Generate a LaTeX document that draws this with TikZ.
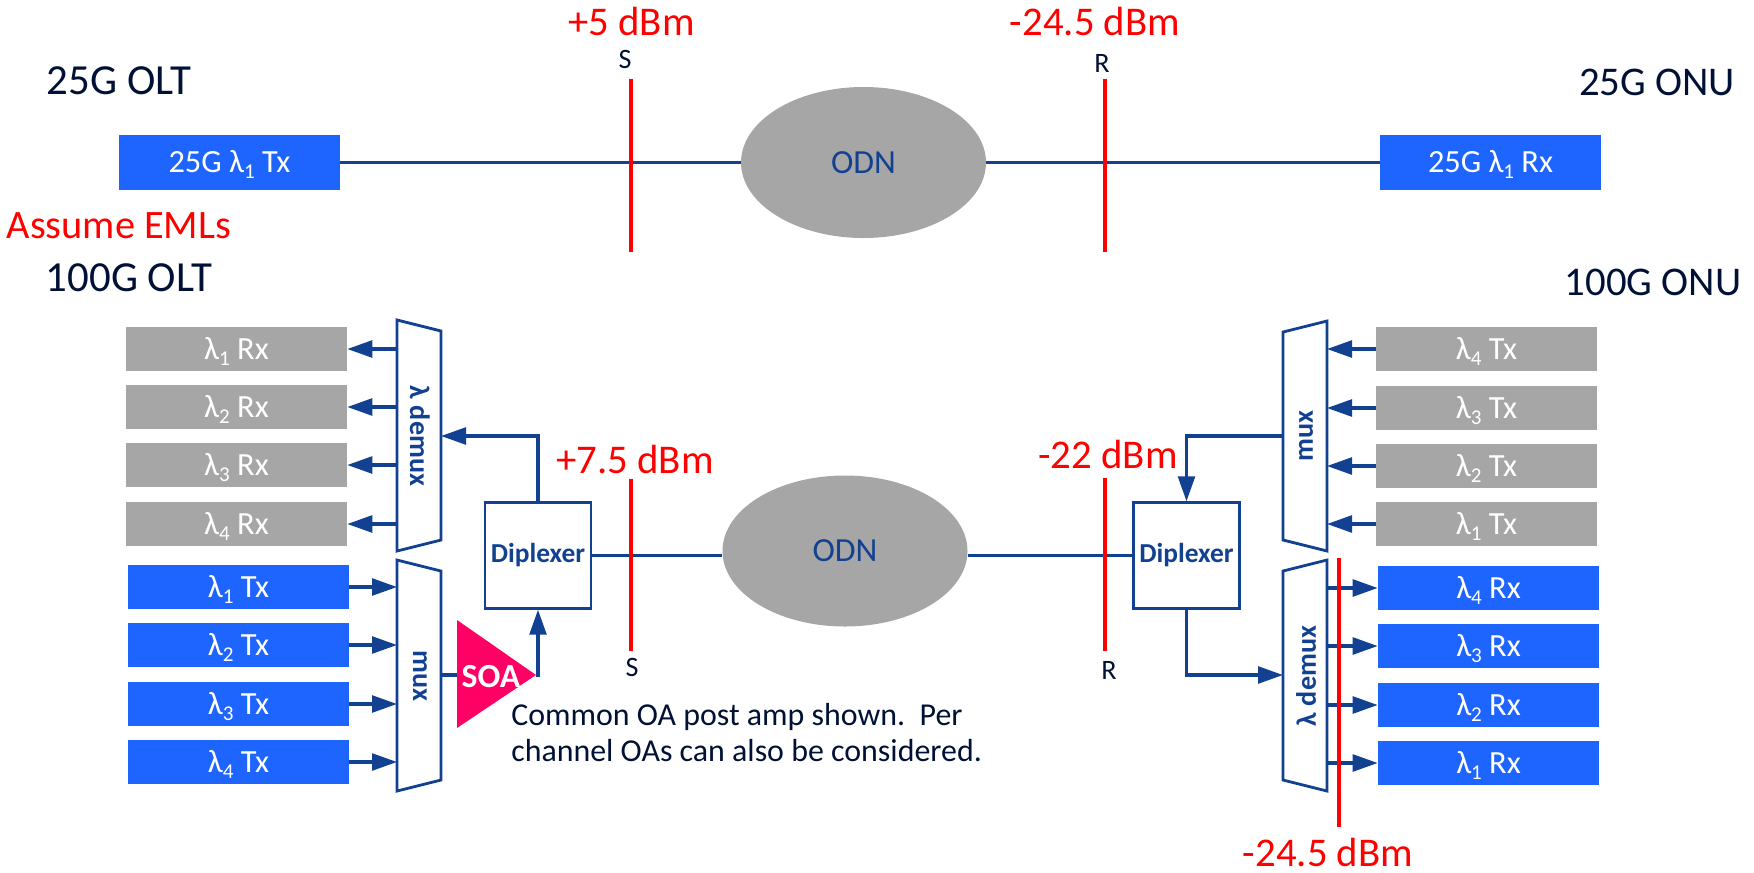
\documentclass[tikz,border=0pt]{standalone}
\usepackage{fontspec}
\setmainfont{Carlito}
\usepackage{tikz}
\usetikzlibrary{shapes.geometric, arrows.meta}

\definecolor{nokblue}{HTML}{124191}
\definecolor{brtblue}{HTML}{1E64FF}
\definecolor{odngray}{HTML}{A6A6A6}
\definecolor{soapink}{HTML}{FF0064}
\definecolor{txtnavy}{HTML}{001135}

\newcommand{\lamb}[1]{λ\raisebox{-0.4ex}{\fontsize{15}{15}\selectfont #1}}

\tikzset{
  lbl/.style={inner sep=0pt,anchor=base,text=txtnavy,font=\fontsize{29}{30}\selectfont},
  dbm/.style={lbl,text=red,font=\fontsize{29}{30}\selectfont},
  pnt/.style={lbl,font=\fontsize{20}{21}\selectfont},
  note/.style={lbl,anchor=base west,font=\fontsize{22.7}{24}\selectfont},
  chbox/.style={inner sep=0pt,text=white,minimum width=55.25mm,minimum height=11mm,text height=5.5mm,text depth=0.5mm,font=\fontsize{23}{24}\selectfont},
  grybox/.style={chbox,fill=odngray},
  blubox/.style={chbox,fill=brtblue},
  topbox/.style={blubox,minimum height=13.75mm},
  odn/.style={ellipse,inner sep=0pt,fill=odngray,text=nokblue,minimum width=61.25mm,minimum height=37.75mm,font=\fontsize{24}{26}\selectfont},
  dipbox/.style={draw=nokblue,line width=0.6mm,inner sep=0pt,minimum width=26.5mm,minimum height=26.5mm,text=nokblue,font=\bfseries\fontsize{19.5}{20}\selectfont},
  muxtxt/.style={inner sep=0pt,text=nokblue,font=\bfseries\fontsize{20}{21}\selectfont},
  muxln/.style={draw=nokblue,line width=0.7mm,line join=miter},
  lnk/.style={draw=nokblue,line width=0.8mm},
  arw/.style={lnk,-{Triangle[length=6.25mm,width=4.2mm]}},
  redln/.style={draw=red,line width=1.05mm}
}

\begin{document}
\begin{tikzpicture}[x=0.25mm,y=-0.25mm]
\useasboundingbox (0,0) rectangle (1754,873);

%top link
\node[lbl,font=\fontsize{30.5}{32}\selectfont] (olta) at (119,94) {25G OLT};
\node[lbl] (onua) at (1657,95) {25G ONU};
\node[lbl,text=red,font=\fontsize{28.7}{30}\selectfont] (eml) at (119,238) {Assume EMLs};
\node[lbl,font=\fontsize{30.5}{32}\selectfont] (oltb) at (129,291) {100G OLT};
\node[lbl] (onub) at (1653,295) {100G ONU};

\node[topbox] (txa) at (229.5,162.5) {25G \lamb{1} Tx};
\node[topbox] (rxa) at (1490.5,162.5) {25G \lamb{1} Rx};
\node[odn] (odna) at (863.5,162.5) {ODN};
\draw[lnk] (txa.east) -- (odna.west);
\draw[lnk] (odna.east) -- (rxa.west);

\coordinate (sat) at (631,79); \coordinate (sab) at (631,252);
\coordinate (rat) at (1105,79); \coordinate (rab) at (1105,252);
\draw[redln] (sat) -- (sab);
\draw[redln] (rat) -- (rab);
\node[pnt] (sa) at (625,68) {S};
\node[pnt] (ra) at (1102,72) {R};
\node[dbm] (pa) at (631.5,35) {+5 dBm};
\node[dbm] (pb) at (1095,35) {-24.5 dBm};

%OLT side
\node[grybox] (orx1) at (236.5,349) {\lamb{1} Rx};
\node[grybox] (orx2) at (236.5,407) {\lamb{2} Rx};
\node[grybox] (orx3) at (236.5,465) {\lamb{3} Rx};
\node[grybox] (orx4) at (236.5,524) {\lamb{4} Rx};
\node[blubox] (otx1) at (238.5,587) {\lamb{1} Tx};
\node[blubox] (otx2) at (238.5,645) {\lamb{2} Tx};
\node[blubox] (otx3) at (238.5,704) {\lamb{3} Tx};
\node[blubox] (otx4) at (238.5,762) {\lamb{4} Tx};

\draw[muxln] (397,320) -- (441,331) -- (441,540) -- (397,551) -- cycle;
\draw[muxln] (397,560) -- (441,571) -- (441,780) -- (397,791) -- cycle;
\node[muxtxt,rotate=-90] (odmx) at (420,436) {λ demux};
\node[muxtxt,rotate=-90] (omx) at (420,676) {mux};

\coordinate (odin) at (441,436);
\coordinate (od1) at (397,349); \coordinate (od2) at (397,407);
\coordinate (od3) at (397,465); \coordinate (od4) at (397,524);
\coordinate (om1) at (397,587); \coordinate (om2) at (397,645);
\coordinate (om3) at (397,704); \coordinate (om4) at (397,762);
\coordinate (omo) at (441,675);

\draw[arw] (od1) -- (orx1.east);
\draw[arw] (od2) -- (orx2.east);
\draw[arw] (od3) -- (orx3.east);
\draw[arw] (od4) -- (orx4.east);
\draw[arw] (otx1.east) -- (om1);
\draw[arw] (otx2.east) -- (om2);
\draw[arw] (otx3.east) -- (om3);
\draw[arw] (otx4.east) -- (om4);

\node[dipbox] (dipl) at (538,555.5) {Diplexer};
\coordinate (soain) at (457,675); \coordinate (soaout) at (536,675);
\fill[soapink] (457,620) -- (soaout) -- (457,728) -- cycle;
\node[lbl,text=white,font=\bfseries\fontsize{24}{26}\selectfont] (soa) at (491,687) {SOA};
\draw[lnk] (omo) -- (soain);
\draw[arw] (soaout) -| (dipl.south);
\draw[arw] (dipl.north) |- (odin);

\node[note] (nta) at (511,725) {Common OA post amp shown.\ \ Per};
\node[note] (ntb) at (511,761) {channel OAs can also be considered.};

%ONU side
\node[grybox] (utx4) at (1486.5,349) {\lamb{4} Tx};
\node[grybox] (utx3) at (1486.5,408) {\lamb{3} Tx};
\node[grybox] (utx2) at (1486.5,466) {\lamb{2} Tx};
\node[grybox] (utx1) at (1486.5,524) {\lamb{1} Tx};
\node[blubox] (urx4) at (1488.5,588) {\lamb{4} Rx};
\node[blubox] (urx3) at (1488.5,646) {\lamb{3} Rx};
\node[blubox] (urx2) at (1488.5,705) {\lamb{2} Rx};
\node[blubox] (urx1) at (1488.5,763) {\lamb{1} Rx};

\draw[muxln] (1283,332) -- (1327,321) -- (1327,551) -- (1283,540) -- cycle;
\draw[muxln] (1283,571) -- (1327,560) -- (1327,791) -- (1283,780) -- cycle;
\node[muxtxt,rotate=90] (umx) at (1306,436) {mux};
\node[muxtxt,rotate=90] (udmx) at (1306,676) {λ demux};

\coordinate (umo) at (1283,436); \coordinate (udin) at (1283,675);
\coordinate (um4) at (1327,349); \coordinate (um3) at (1327,408);
\coordinate (um2) at (1327,466); \coordinate (um1) at (1327,524);
\coordinate (ud4) at (1327,588); \coordinate (ud3) at (1327,646);
\coordinate (ud2) at (1327,705); \coordinate (ud1) at (1327,763);

\draw[arw] (utx4.west) -- (um4);
\draw[arw] (utx3.west) -- (um3);
\draw[arw] (utx2.west) -- (um2);
\draw[arw] (utx1.west) -- (um1);
\draw[arw] (ud4) -- (urx4.west);
\draw[arw] (ud3) -- (urx3.west);
\draw[arw] (ud2) -- (urx2.west);
\draw[arw] (ud1) -- (urx1.west);

\node[dipbox] (dipr) at (1186.5,555.5) {Diplexer};
\draw[arw] (umo) -| (dipr.north);
\draw[arw] (dipr.south) |- (udin);

%bottom link
\node[odn] (odnb) at (845,551) {ODN};
\draw[lnk] (dipl.east) -- (dipl.east -| odnb.west);
\draw[lnk] (dipr.west) -- (dipr.west -| odnb.east);

\coordinate (sbt) at (631,479); \coordinate (sbb) at (631,651);
\coordinate (rbt) at (1105,478); \coordinate (rbb) at (1105,651);
\coordinate (rct) at (1339,558); \coordinate (rcb) at (1339,827);
\draw[redln] (sbt) -- (sbb);
\draw[redln] (rbt) -- (rbb);
\draw[redln] (rct) -- (rcb);
\node[pnt] (sb) at (632,676) {S};
\node[pnt] (rb) at (1109,679) {R};
\node[dbm] (pc) at (635,473) {+7.5 dBm};
\node[dbm] (pd) at (1108,468) {-22 dBm};
\node[dbm] (pe) at (1328,866) {-24.5 dBm};
\end{tikzpicture}
\end{document}
